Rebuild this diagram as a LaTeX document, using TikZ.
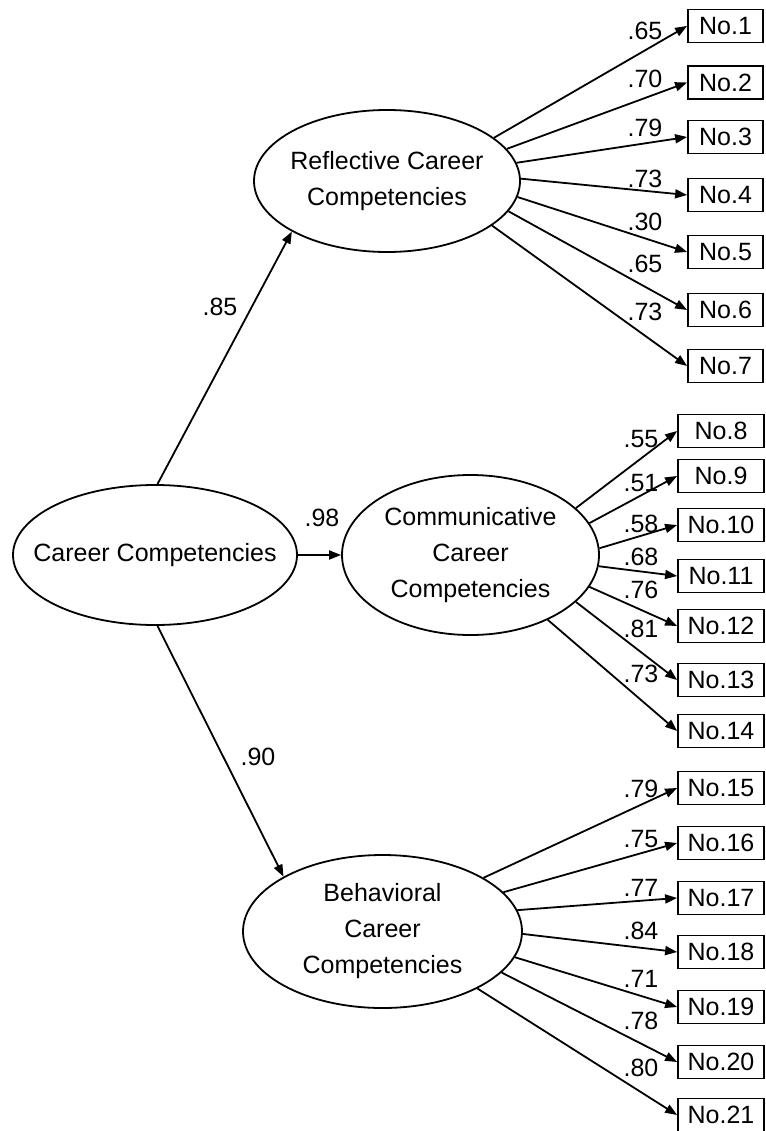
\documentclass[tikz,border=0pt]{standalone}
\usepackage{fontspec}
\setmainfont{Liberation Sans}
\usetikzlibrary{shapes.geometric, arrows.meta}

\tikzset{
  latent/.style={draw, ellipse, line width=1.8pt, inner xsep=-30pt, inner ysep=0pt, align=center},
  item/.style={draw, rectangle, line width=1.8pt, minimum height=33pt, inner sep=0pt},
  loadarrow/.style={line width=1.8pt, -{Triangle[length=12pt, width=9pt]}},
  weight/.style={inner sep=0pt}
}

\begin{document}
\begin{tikzpicture}[x=1pt, y=-1pt, font=\fontsize{25}{36}\selectfont]
  \useasboundingbox (0,0) rectangle (765,1131);

  \node[latent, minimum width=284pt, minimum height=140pt] (cc) at (155,555) {Career Competencies};
  \node[latent, minimum width=266pt, minimum height=142pt] (refl) at (387,181) {Reflective Career\\Competencies};
  \node[latent, minimum width=257pt, minimum height=160pt] (comm) at (470.5,555) {Communicative\\Career\\Competencies};
  \node[latent, minimum width=279pt, minimum height=153pt] (beh) at (382.5,931.5) {Behavioral\\Career\\Competencies};

  \draw[loadarrow] (cc.88) -- (refl.208.7);
  \draw[loadarrow] (cc.east) -- (comm.west);
  \draw[loadarrow] (cc.272) -- (beh.151.3);
  \node[weight] (w85) at (220,307) {.85};
  \node[weight] (w98) at (322,518) {.98};
  \node[weight] (w90) at (258,757) {.90};

  \foreach \n/\y/\a/\t/\ly in {1/26/22.2/.65/31, 2/82.5/15.8/.70/79, 3/137/8.9/.79/128, 4/195/1.3/.73/179,
      5/252/353/.30/222, 6/310/346.7/.65/264, 7/366/337.8/.73/312} {
    \node[item, minimum width=75pt] (n\n) at (725.5,\y) {No.\n};
    \draw[loadarrow] (refl.\a) -- (n\n.west);
    \node[weight] (w\n) at (645,\ly) {\t};
  }

  \foreach \n/\y/\a/\t/\ly in {8/431/24.3/.55/439, 9/476/15.9/.51/483, 10/525/3.5/.58/524, 11/576/355.2/.68/557,
      12/626/345/.76/590, 13/680/336.4/.81/629, 14/731/320/.73/674} {
    \node[item, minimum width=86pt] (n\n) at (721,\y) {No.\n};
    \draw[loadarrow] (comm.\a) -- (n\n.west);
    \node[weight] (w\n) at (641,\ly) {\t};
  }

  \foreach \n/\y/\a/\t/\ly in {15/788/28.7/.79/789, 16/843/18.7/.75/839, 17/898/9.1/.77/888, 18/952/359.4/.84/931,
      19/1007/349.7/.71/979, 20/1062/341.3/.78/1021, 21/1115/329.9/.80/1068} {
    \node[item, minimum width=86pt] (n\n) at (721,\y) {No.\n};
    \draw[loadarrow] (beh.\a) -- (n\n.west);
    \node[weight] (w\n) at (641,\ly) {\t};
  }
\end{tikzpicture}
\end{document}
